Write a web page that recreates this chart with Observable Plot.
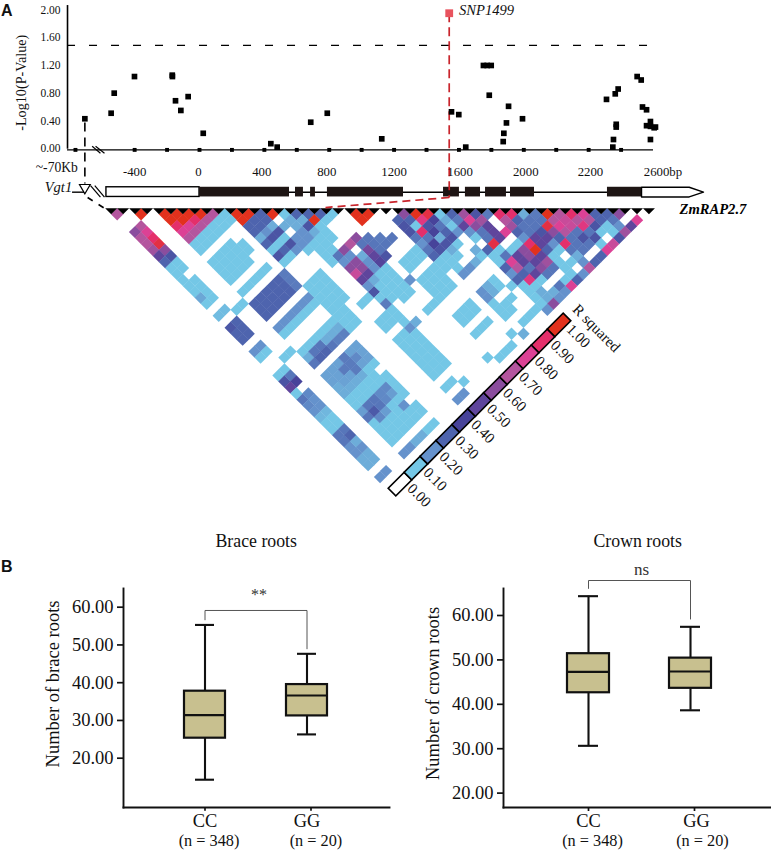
<!DOCTYPE html>
<html><head><meta charset="utf-8">
<script src="https://cdn.jsdelivr.net/npm/d3@7"></script>
<script src="https://cdn.jsdelivr.net/npm/@observablehq/plot@0.6"></script>
<style>
html,body{margin:0;padding:0;background:#fff}
#page{position:relative;width:771px;height:850px;overflow:hidden;background:#fff}
#page svg{position:absolute;overflow:visible;max-width:none}
#page .lab{position:absolute;font:bold 16px "Liberation Sans",sans-serif;color:#111}
</style></head><body><div id="page"></div>
<script>
// ---------- Panel A: association scan ----------
const snpPos=[-707,-545,-526,-401,-168,-167,-148,-115,-70,23,440,479,686,788,1124,1554,1599,1642,1751,1774,1799,1787,1906,1893,1877,1873,1992,2510,2564,2582,2570,2570,2553,2549,2699,2724,2732,2757,2781,2757,2781,2804,2812,2781];
const snpLogP=[.43,.51,.80,1.04,1.06,1.04,.69,.55,.75,.22,.07,.02,.38,.51,.14,.53,.49,.02,1.2,1.2,1.2,.77,.61,.37,.22,.10,.43,.71,.79,.86,.35,.31,.13,.02,1.04,.99,.60,.56,.39,.33,.32,.30,.31,.13];
const leadSnp={name:"SNP1499",pos:1540,logP:1.955};
const threshold=1.49;
const yTicksA=[0,.4,.8,1.2,1.6,2];
const xTickPos=[-765,-400,-200,0,200,400,600,800,1000,1200,1400,1600,1800,2000,2200,2400,2600];
const xLabelPos=[-400,-6,384,785,1200,1607,2012,2411,2858];
const xLabels=["-400","0","400","800","1200","1600","2000","2200","2600bp"];
const exonsCoding=[[0,555],[592,641],[685,715],[789,1258],[1505,1603],[1640,1733],[1764,1893],[1918,2066],[2516,2726]];
const utr5=[-574,0];
const utr3Outline=[[2726,-.56],[3020,-.56],[3108,-.631],[3020,-.70],[2726,-.70],[2726,-.56]];
// ---------- LD matrix: [d=j-i, first i, levels x10] ----------
const ldRows=[
[1,10,[10,10,3,10,1,3,3,3,1,0,10,10]],
[2,10,[10,3,3,0,1.5,1.5,10,1,0,0,10]],
[3,10,[3,3,1.5,1.5,1.5,3.5,1,0]],
[4,10,[3,2,3.5,0,2,1.5,1]],
[5,10,[1.5,3.5,1,2,2,1,1]],
[6,10,[3,1,3.5,2,1,1]],
[7,10,[1,3,2,1,1,1]],
[8,10,[3.5,1,0,0,1,1]],
[9,10,[1,0,0,0,1]],
[1,24,[6,10,9.5,1,3,6.5,3.5,2.5,9,9,1.5,2.5,10,7,9,8,3,3,6]],
[2,23,[3,3,8.5,4,1.5,2.5,8,6.5,0,7,3,2.6,2.6,7,7.5,7,7,3,2.6,0,8]],
[3,23,[3.5,1,3.5,2.6,1,5,6,5,0,6.5,2.6,2.6,9.5,8,7.5,8.5,3.5,1,2,5]],
[4,23,[3.5,9,4,3,2,2,2.6,5,8,3,2.6,3.5,6,7,2.6,2.6,1,1,6.5]],
[5,23,[2.6,2.6,1.5,3.5,0,1,2.6,5,0,2,5,5,3,2.6,3.5,3.5,0,3.5]],
[6,23,[2,4,3.5,1,0,0,9.5,0,1,9,5,2,9,2.6,2.6,1,7.5]],
[7,23,[2.6,3.5,1.5,0,1.5,3,1,1,6,10,3,1,2.6,2.6,0,8]],
[8,23,[3,1,1,0,1,1,2.6,5,6,5,1,0,1.5,0,3]],
[9,23,[1,1,0,1.5,0,1,8,5,5,6.5,1,1,2,3]],
[10,23,[1,1,2,0,0,3,7,2.6,6,2.6,1,0,7]],
[11,23,[0,2,0,0,0,2,3,5,2.6,0,1,2]],
[12,28,[3,8.5,1,0,1,3]],
[13,27,[1,1,1,0,2.6,8]],
[14,28,[1,1.5,1.5,2]],
[15,28,[1,1.5,2]],
[16,28,[1,6]],
[17,28,[2]]
];
// Blocks of equal level: [i from, i to, j from, j to, level x10]
const ldBlocks=[
[4,9,10,11,1],[0,1,10,16,1],[0,1,18,18,1.2],[2,3,19,19,1],[0,1,20,22,3],[0,1,24,24,2],[0,1,25,25,1],[2,3,27,27,1],
[0,1,28,28,1],[0,1,32,43,1.3],[0,1,45,45,2],[4,7,13,16,1],[8,8,14,15,1],[4,8,18,18,1],[4,9,20,22,3],[9,9,20,22,2.5],
[4,9,24,24,2],[4,9,25,25,1],[4,9,28,28,1],[4,9,29,29,1.5],[4,9,30,30,2.4],[4,8,32,43,1],[9,9,32,35,1],[9,9,37,40,1],[9,9,42,43,1],
[4,9,32,34,1.7],[4,9,45,45,1.5],[10,12,23,27,1],[10,11,28,30,1],[13,14,29,29,1],[13,15,32,33,1],[15,16,29,31,1],[17,18,28,32,1],
[20,22,29,30,1],[20,22,32,35,1],[18,19,35,35,1],[13,15,35,41,1],[13,14,43,43,1],[20,22,38,39,1],[20,22,41,41,1],[20,22,45,45,1],
[25,27,44,44,1],[24,24,38,42,1]
];
// Single cells: [i, j, level x10]
const ldCells=[
[0,1,7],[2,3,10],[4,5,10],[5,6,10],[6,7,10],[7,8,10],[8,9,7],[4,6,10],[5,7,10],[6,8,9],[7,9,7],[4,7,9],[5,8,8],[6,9,7],[4,8,8],[5,9,7],[4,9,7],
[1,4,7],[1,5,8],[1,6,9],[1,7,9.5],[1,8,6],[1,9,3.5],[0,4,6],[0,5,7],[0,6,7],[0,7,6.5],[0,8,5],[0,9,3],
[1,12,0],[0,15,1.6],[0,20,3.4],
[0,29,3.5],[1,29,2.6],[1,30,4],[0,30,5],[0,31,1],[0,32,2.6],[1,32,2.2],[0,33,2.2],[1,33,2],[0,34,2],[1,34,2],[0,36,1],[0,37,1],[1,36,1],[1,37,1],[0,38,2.6],[1,38,2.6],[1,39,3],[0,39,2.6],[0,40,2],[1,40,1.5],[0,41,2],[1,41,2],[0,42,1.5],[1,42,1.5],[0,43,1.5],[1,43,1.5],
[5,29,2.6],[6,29,2.6],[4,30,2.6],[5,30,3],[6,30,3],[7,30,2.6],
[6,33,2.5],[7,33,2.5],[7,34,2.5],[7,32,2.5],[8,33,2.2],[4,34,1.5],[4,35,1.5],[5,35,1.5],[6,35,1.5],[7,35,1.5],
[5,39,3.3],[5,38,2.6],[4,39,2.6],[6,39,2.6],[6,38,2.6],[7,38,2.2],[7,39,2.2],[8,38,2.2],[8,39,1.8],[5,40,2.2],[6,40,1.8],[4,38,1.8],[8,41,2],
[4,45,2],[5,45,2],[8,45,1],[9,45,1],
[18,23,6],[17,23,7],[18,24,2.6],[16,23,6],[17,24,0],[18,25,5.5],[19,25,2.6],[19,26,2.6],[20,26,2.6],[15,23,2.6],[16,24,2],[17,25,1.5],[18,26,5],[19,27,3.5],[15,24,2],[16,25,6],[17,26,2],[18,27,4.5],[15,25,6],[16,26,6],[17,27,2],[18,28,1],[15,26,7.5],[16,27,5],[17,28,1],[15,27,5],[16,28,1.5],[15,28,2],[15,29,3.5],[15,31,2.5],[19,24,2.6],[20,25,2.5],[21,26,2.6],
[19,31,2],[15,35,2],[16,35,1.5],[15,34,1],[13,45,2],[14,45,2],[15,44,1],[19,44,1],[23,44,1],[24,45,1.5],[25,38,1.5],[25,39,1.5],[26,38,1],[26,39,1],[25,41,1],[25,42,1],[26,41,1],[24,38,2],[24,39,2]
];
const snpCount=46;
const legendLevels=[0,1,2,3,4,5,6,7,8,9,10];
const legendLabels=["0.00","0.10","0.20","0.30","0.40","0.50","0.60","0.70","0.80","0.90","1.00"];
const legendColors=["#ffffff","#74c7e6","#6592cc","#4e64ae","#47439a","#5f459c","#8b4d9e","#b4559e","#dc4195","#e42f6b","#e2311d"];
// ---------- Panel B ----------
const genotypes=["CC","GG"];
const genotypeN=["(n = 348)","(n = 20)"];
const braceLow=[14.3,26.3],braceQ1=[25.3,31.2],braceMed=[31.4,36.6],braceQ3=[37.75,39.5],braceHigh=[55.3,47.65];
const crownLow=[30.65,38.65],crownQ1=[42.6,43.6],crownMed=[47.3,47.4],crownQ3=[51.4,50.4],crownHigh=[64.35,57.45];
const boxTicks=[20,30,40,50,60];

const page=document.getElementById("page");
const font='"Liberation Serif","Times New Roman",serif';
const baseStyle={background:"transparent",fontFamily:font,overflow:"visible"};
const ink="#111";
function place(svg,left,top){svg.style.left=left+"px";svg.style.top=top+"px";page.appendChild(svg);return svg;}
function label(t,l,tp){const d=document.createElement("div");d.className="lab";d.textContent=t;d.style.left=l+"px";d.style.top=tp+"px";page.appendChild(d);}

// ---------- LD heat map ----------
const ldMap=new Map();
const setCell=(i,j,v)=>{const k=i+","+j;if(v>0)ldMap.set(k,{i,j,v});else ldMap.delete(k);};
for(const [d,i0,vals] of ldRows)vals.forEach((v,n)=>setCell(i0+n,i0+n+d,v));
for(const [a,b,c,e,v] of ldBlocks){for(let i=a;i<=b;i++)for(let j=c;j<=e;j++)setCell(i,j,v);}
for(const [i,j,v] of ldCells)setCell(i,j,v);
const ldData=[...ldMap.values()];
const downTriangle={draw(ctx,size){const r=Math.sqrt(size/Math.PI);ctx.moveTo(-r,0);ctx.lineTo(r,0);ctx.lineTo(0,r);ctx.closePath();}};
place(Plot.plot({width:771,height:520,margin:0,style:baseStyle,
  x:{domain:[0,45],range:[110.7,648.45],axis:null},
  y:{domain:[0,22.5],range:[207.7,476.6],axis:null},
  color:{type:"linear",domain:legendLevels,range:legendColors},
  marks:[
    Plot.dot(ldData,{x:d=>(d.i+d.j)/2,y:d=>(d.j-d.i)/2,fill:d=>d.v,symbol:"square",rotate:45,r:4.95}),
    Plot.dot(d3.range(snpCount),{x:d=>d,y:()=>0,symbol:downTriangle,r:6,fill:"#000"})
  ]}),0,0);

// ---------- Legend ----------
place(Object.assign(Plot.plot({width:248,height:120,margin:0,style:Object.assign({},baseStyle,{transform:"rotate(-45deg)",transformOrigin:"0 60px"}),
  x:{domain:[0,11],range:[0,247.5],axis:null},
  y:{domain:[-60,60],range:[0,120],axis:null},
  color:{type:"linear",domain:legendLevels,range:legendColors},
  marks:[
    Plot.rect(legendLevels,{x1:d=>d,x2:d=>d+1,y1:()=>-5.4,y2:()=>5.4,fill:d=>d,stroke:"#000",strokeWidth:1.6}),
    Plot.text(legendLabels,{x:(d,i)=>i+.73,y:()=>8,text:d=>d,rotate:90,textAnchor:"start",lineAnchor:"middle",fontSize:15,fill:ink}),
    Plot.text(["R squared"],{x:()=>11.55,y:()=>-2,text:d=>d,rotate:90,textAnchor:"start",lineAnchor:"middle",fontSize:15,fill:ink})
  ]})),392.3,432.3);

// ---------- Manhattan + gene model ----------
const axisLeft=-814,axisRight=2800,axisY=-.02;
const geneY=-.631;
const red="#c9252c";
place(Plot.plot({width:771,height:215,margin:0,style:baseStyle,
  x:{domain:[-1227.3,3527.6],range:[0,771],axis:null},
  y:{domain:[-.968,2.139],range:[215,0],axis:null},
  marks:[
    Plot.ruleX([axisLeft],{y1:-.01,y2:2.066,stroke:"#000",strokeWidth:1.6}),
    Plot.ruleY([axisY],{x1:axisLeft,x2:axisRight,stroke:"#000",strokeWidth:1.4}),
    Plot.ruleY([threshold],{x1:axisLeft,x2:axisRight,stroke:"#000",strokeWidth:1.3,strokeDasharray:"8,14"}),
    Plot.dot(xTickPos,{x:d=>d,y:()=>axisY,symbol:"square",r:2.2,fill:"#000"}),
    Plot.link([[-662,.033,-611,-.068],[-641,.033,-586,-.068],[-672,-.535,-611,-.704],[-646,-.535,-586,-.704]],{x1:d=>d[0],y1:d=>d[1],x2:d=>d[2],y2:d=>d[3],stroke:"#000",strokeWidth:1.2}),
    Plot.link([[-707,.376,-707,-.506]],{x1:d=>d[0],y1:d=>d[1],x2:d=>d[2],y2:d=>d[3],stroke:"#000",strokeWidth:1.6,strokeDasharray:"9,6"}),
    Plot.link([[-690,-.708,-574,-.882]],{x1:d=>d[0],y1:d=>d[1],x2:d=>d[2],y2:d=>d[3],stroke:"#000",strokeWidth:1.6,strokeDasharray:"6,7"}),
    Plot.ruleY([geneY],{x1:555,x2:2516,stroke:"#000",strokeWidth:1.4}),
    Plot.ruleY([geneY],{x1:-783,x2:-707,stroke:"#000",strokeWidth:1.4}),
    Plot.rect([utr5],{x1:d=>d[0],x2:d=>d[1],y1:()=>-.56,y2:()=>-.70,fill:"#fff",stroke:"#000",strokeWidth:1.4}),
    Plot.rect(exonsCoding,{x1:d=>d[0],x2:d=>d[1],y1:()=>-.56,y2:()=>-.70,fill:"#1e1514"}),
    Plot.line(utr3Outline,{x:d=>d[0],y:d=>d[1],fill:"#fff",stroke:"#000",strokeWidth:1.4}),
    Plot.dot([-707],{x:d=>d,y:()=>-.565,symbol:"triangle",rotate:180,r:4,fill:"#fff",stroke:"#000",strokeWidth:1.2}),
    Plot.link([[leadSnp.pos,leadSnp.logP,leadSnp.pos,-.708]],{x1:d=>d[0],y1:d=>d[1],x2:d=>d[2],y2:d=>d[3],stroke:red,strokeWidth:1.7,strokeDasharray:"9,5"}),
    Plot.link([[leadSnp.pos,-.708,777,-.853]],{x1:d=>d[0],y1:d=>d[1],x2:d=>d[2],y2:d=>d[3],stroke:red,strokeWidth:1.7,strokeDasharray:"8,5"}),
    Plot.dot(snpPos,{x:d=>d,y:(d,i)=>snpLogP[i],symbol:"square",r:3.2,fill:"#000"}),
    Plot.dot([leadSnp],{x:"pos",y:"logP",symbol:"square",r:4.4,fill:"#e8535e"}),
    Plot.text(yTicksA,{x:()=>axisLeft,y:d=>d,text:d=>d3.format(".2f")(d),textAnchor:"end",dx:-7,fontSize:11.5,fill:ink}),
    Plot.text(xLabels,{x:(d,i)=>xLabelPos[i],y:()=>-.332,text:d=>d,fontSize:12.8,fill:ink}),
    Plot.text(["~-70Kb"],{x:()=>-880,y:()=>-.27,text:d=>d,fontSize:13.6,fill:ink}),
    Plot.text(["-Log10(P-Value)"],{x:()=>-1098,y:()=>.95,text:d=>d,rotate:-90,fontSize:14.2,fill:ink}),
    Plot.text(["Vgt1"],{x:()=>-870,y:()=>-.565,text:d=>d,fontStyle:"italic",fontSize:14.5,fill:ink}),
    Plot.text([leadSnp.name],{x:()=>1600,y:()=>2,text:d=>d,textAnchor:"start",fontStyle:"italic",fontSize:14.6,fill:ink}),
    Plot.text(["ZmRAP2.7"],{x:()=>2960,y:()=>-.88,text:d=>d,textAnchor:"start",fontStyle:"italic",fontWeight:"bold",fontSize:14.6,fill:"#000"})
  ]}),0,0);

// ---------- Box plots ----------
function boxPlot(o){
  const rows=genotypes.map((g,i)=>({g,low:o.low[i],q1:o.q1[i],med:o.med[i],q3:o.q3[i],high:o.high[i]}));
  const gray="#555";
  const marks=[
    Plot.frame({anchor:"left",stroke:"#111",strokeWidth:1.9}),
    Plot.frame({anchor:"bottom",stroke:"#111",strokeWidth:1.9}),
    Plot.axisY({ticks:boxTicks,tickFormat:d3.format(".2f"),tickSize:6,tickPadding:4,fontSize:18.5,label:null,stroke:"#111",strokeWidth:1.7,fill:ink}),
    Plot.ruleX(rows,{x:"g",y1:"low",y2:"high",stroke:"#111",strokeWidth:2.1}),
    Plot.tickY(rows,{x:"g",y:"low",insetLeft:o.cap,insetRight:o.cap,stroke:"#111",strokeWidth:2.1}),
    Plot.tickY(rows,{x:"g",y:"high",insetLeft:o.cap,insetRight:o.cap,stroke:"#111",strokeWidth:2.1}),
    Plot.barY(rows,{x:"g",y1:"q1",y2:"q3",fill:"#c8c08f",stroke:"#111",strokeWidth:2.2}),
    Plot.tickY(rows,{x:"g",y:"med",stroke:"#111",strokeWidth:2.1}),
    Plot.line(o.bracket,{x:"g",y:"v",stroke:gray,strokeWidth:1}),
    Plot.text([o.sig],{x:()=>genotypes[0],y:()=>o.sigY,text:d=>d,dx:o.sigDx,fontSize:o.sigSize,fill:"#333"}),
    Plot.text([o.title],{frameAnchor:"top-left",text:d=>d,dx:o.titleDx,dy:-47.3,lineAnchor:"middle",fontSize:17.8,fill:ink}),
    Plot.text([o.ylabel],{frameAnchor:"left",text:d=>d,textAnchor:"middle",rotate:-90,dx:o.ylabelDx,dy:o.ylabelDy,fontSize:18.5,fill:ink})
  ];
  genotypes.forEach((g,i)=>{
    marks.push(Plot.text([g],{x:d=>d,frameAnchor:"bottom",text:d=>d,dx:o.labDx[i],dy:13.5,lineAnchor:"middle",fontSize:18.4,fill:ink}));
    marks.push(Plot.text([genotypeN[i]],{x:()=>g,frameAnchor:"bottom",text:d=>d,dx:o.nDx[i],dy:33.5,lineAnchor:"middle",fontSize:16.3,fill:ink}));
    marks.push(Plot.ruleX([g],{x:d=>d,y1:()=>o.dom[0],y2:()=>o.dom[0]-o.tickLen,dx:o.tickDx[i],stroke:"#111",strokeWidth:1.7}));
  });
  return Plot.plot({width:o.w,height:330,marginLeft:o.ml,marginRight:1,marginTop:68,marginBottom:43,style:baseStyle,
    x:{type:"band",domain:genotypes,range:o.xr,paddingInner:o.pad,paddingOuter:0,axis:null},
    y:{domain:o.dom,range:[287,68],axis:null},
    marks});
}
place(boxPlot({w:390,ml:123,xr:[183.15,327.55],pad:.594,cap:11,dom:[6.94,64.95],tickLen:1,low:braceLow,q1:braceQ1,med:braceMed,q3:braceQ3,high:braceHigh,
  bracket:[{g:"CC",v:56.66},{g:"CC",v:59.13},{g:"GG",v:59.13},{g:"GG",v:48.98}],sig:"**",sigY:63.2,sigDx:54,sigSize:16,
  title:"Brace roots",titleDx:92,ylabel:"Number of brace roots",ylabelDx:-70,ylabelDy:-14,labDx:[0,0],nDx:[4,9],tickDx:[0,4]}),0,520);
place(boxPlot({w:381,ml:113,xr:[176.65,322.05],pad:.584,cap:11,dom:[16.76,66.08],tickLen:.9,low:crownLow,q1:crownQ1,med:crownMed,q3:crownQ3,high:crownHigh,
  bracket:[{g:"CC",v:66.1},{g:"CC",v:67.88},{g:"GG",v:67.88},{g:"GG",v:59.2}],sig:"ns",sigY:70.36,sigDx:53,sigSize:17,
  title:"Crown roots",titleDx:90,ylabel:"Number of crown roots",ylabelDx:-70,ylabelDy:-4.5,labDx:[0,6],nDx:[4,12],tickDx:[0,4]}),390,520);

label("A",1,2);
label("B",1,558);
</script></body></html>
